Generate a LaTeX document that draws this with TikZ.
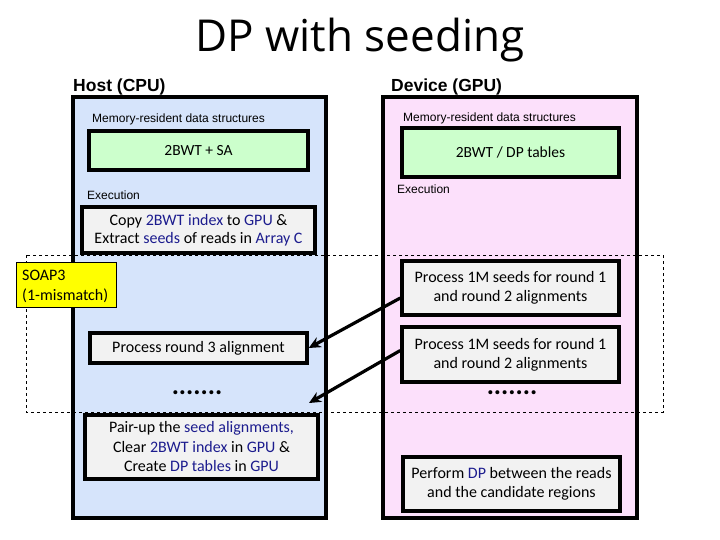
\documentclass[tikz,border=0pt]{standalone}
\usepackage{fontspec}
\setmainfont{Carlito}
\newfontfamily\arialf{Liberation Sans}
\newfontfamily\titlef{Open Sans}
\usetikzlibrary{arrows.meta,calc}
\definecolor{hostfill}{HTML}{D6E4FB}
\definecolor{devfill}{HTML}{FCE0FB}
\definecolor{greenfill}{HTML}{CCFFCC}
\definecolor{grayfill}{HTML}{F2F2F2}
\definecolor{soapfill}{HTML}{FFFF00}
\definecolor{bluetxt}{HTML}{1C1C8E}
\newcommand{\bl}[1]{\textcolor{bluetxt}{#1}}
\tikzset{
  bigbox/.style={draw=black, line width=3.4pt, inner sep=0pt},
  membox/.style={draw=black, line width=3.4pt, fill=greenfill, inner sep=0pt, font=\fontsize{15.5}{18}\selectfont},
  procbox/.style={draw=black, line width=3.4pt, fill=grayfill, inner sep=0pt, align=center, font=\fontsize{16}{19}\selectfont},
  lbl/.style={anchor=west, inner sep=0pt, font=\arialf\fontsize{12}{14}\selectfont},
  hdr/.style={anchor=west, inner sep=0pt, font=\arialf\bfseries\fontsize{17.5}{19}\selectfont},
  dots/.style={inner sep=0pt, font=\bfseries\fontsize{27}{27}\selectfont},
  arr/.style={line width=3.2pt, -{Stealth[length=12pt,width=11pt]}},
}
\begin{document}
\begin{tikzpicture}[x=1pt,y=-1pt]
\useasboundingbox (0,0) rectangle (720,540);
% title
\node[inner sep=0pt, font=\titlef\fontsize{44}{48}\selectfont] (title) at (360,40) {DP with seeding};
% headers
\node[hdr] (hosthdr) at (73,87) {Host (CPU)};
\node[hdr] (devhdr) at (391,87) {Device (GPU)};
% big boxes
\node[bigbox, fill=hostfill, minimum width=253pt, minimum height=421pt] (host) at (199.5,307.5) {};
\node[bigbox, fill=devfill, minimum width=254pt, minimum height=421pt] (dev) at (510,307.5) {};
% dashed region
\draw[dashed, line width=0.9pt] (26,255) rectangle (663,412);
% host contents
\node[lbl] (hmem) at (92,119) {Memory-resident data structures};
\node[membox, minimum width=219pt, minimum height=39pt] (hsa) at (198.5,150.5) {2BWT + SA};
\node[lbl] (hexec) at (87,195) {Execution};
\node[procbox, minimum width=233pt, minimum height=46pt, font=\fontsize{16}{18}\selectfont] (copy) at (198.5,230)
  {Copy \bl{2BWT index} to \bl{GPU} \&\\Extract \bl{seeds} of reads in \bl{Array C}};
\node[draw=black, line width=0.9pt, fill=soapfill, minimum width=100pt, minimum height=45pt, inner sep=0pt] (soapbox) at (66,284.5) {};
\node[anchor=north west, inner sep=0pt, align=left, font=\fontsize{16}{19.5}\selectfont] (soap) at (22,270) {SOAP3\\(1-mismatch)};
\node[procbox, minimum width=217pt, minimum height=30pt] (r3) at (198.5,348) {Process round 3 alignment};
\node[dots] (hdots) at (197,393) {.......};
\node[procbox, minimum width=233pt, minimum height=64pt, font=\fontsize{16}{19.5}\selectfont] (pair) at (201.5,447)
  {Pair-up the \bl{seed alignments,}\\Clear \bl{2BWT index} in \bl{GPU} \&\\Create \bl{DP tables} in \bl{GPU}};
% device contents
\node[lbl] (dmem) at (403,118) {Memory-resident data structures};
\node[membox, minimum width=217pt, minimum height=49pt] (dtab) at (510.5,152.5) {2BWT / DP tables};
\node[lbl] (dexec) at (397,189) {Execution};
\node[procbox, minimum width=217pt, minimum height=54pt] (p1) at (510.5,288) {Process 1M seeds for round 1\\and round 2 alignments};
\node[procbox, minimum width=217pt, minimum height=55pt] (p2) at (510.5,354.5) {Process 1M seeds for round 1\\and round 2 alignments};
\node[dots] (ddots) at (512,393) {.......};
\node[procbox, minimum width=217pt, minimum height=54pt] (dp) at (511.5,484) {Perform \bl{DP} between the reads\\and the candidate regions};
% arrows
\coordinate (a2end) at (309,403);
\draw[arr] ([yshift=-10pt]p1.west) -- (r3.east);
\draw[arr] ([yshift=4pt]p2.west) -- (a2end);
\end{tikzpicture}
\end{document}
